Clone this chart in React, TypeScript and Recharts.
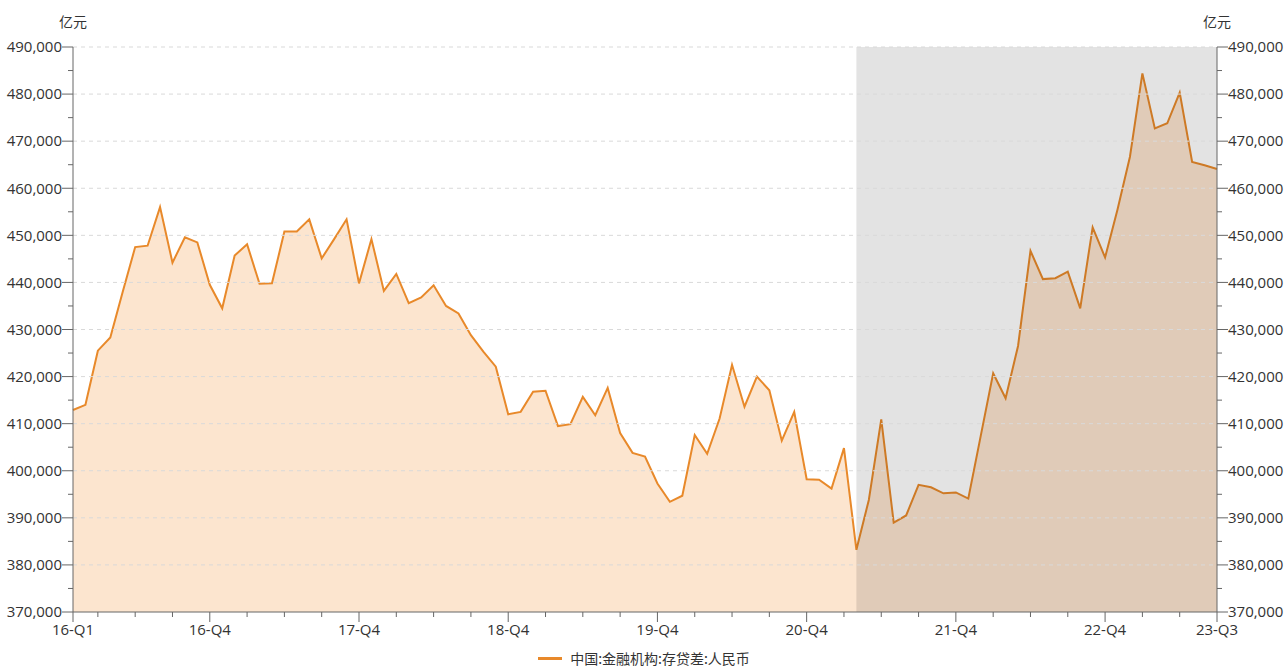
import React from 'react';
import { AreaChart, Area, XAxis, YAxis, ReferenceLine, ReferenceArea, Legend } from 'recharts';

// Monthly categories Jan 2016 – Sep 2023
const months: string[] = [];
for (let y = 2016; y <= 2023; y++) {
  for (let m = 1; m <= 12; m++) {
    if (y === 2023 && m > 9) break;
    months.push(`${y}-${String(m).padStart(2, '0')}`);
  }
}

// 中国:金融机构:存贷差:人民币 (亿元)
const depositLoanGap: number[] = [
  412900, 414000, 425500, 428300, 438000, 447500, 447800, 456000, 444200, 449600, 448500, 439500,
  434500, 445700, 448100, 439700, 439800, 450800, 450800, 453400, 445100, 449200, 453400, 439800,
  449200, 438200, 441800, 435600, 436800, 439400, 435000, 433400, 428800, 425300, 422100, 412000,
  412500, 416800, 417000, 409500, 409900, 415700, 411800, 417600, 408000, 403800, 403000, 397300,
  393400, 394700, 407600, 403600, 411100, 422500, 413600, 420000, 417100, 406400, 412500, 398200,
  398100, 396200, 404800, 383200, 393800, 410900, 389000, 390500, 397000, 396500, 395200, 395400,
  394100, 407400, 420700, 415400, 426500, 446700, 440700, 440900, 442300, 434500, 451700, 445300,
  455500, 466700, 484400, 472700, 473800, 480300, 465600, 464900, 464100,
];

const xTicks: string[] = [
  '2016-01', '2016-03', '2016-06', '2016-09', '2016-12',
  '2017-03', '2017-06', '2017-09', '2017-12',
  '2018-03', '2018-06', '2018-09', '2018-12',
  '2019-03', '2019-06', '2019-09', '2019-12',
  '2020-03', '2020-06', '2020-09', '2020-12',
  '2021-03', '2021-06', '2021-09', '2021-12',
  '2022-03', '2022-06', '2022-09', '2022-12',
  '2023-03', '2023-06', '2023-09',
];

const xTickLabels: Record<string, string> = {
  '2016-01': '16-Q1',
  '2016-12': '16-Q4',
  '2017-12': '17-Q4',
  '2018-12': '18-Q4',
  '2019-12': '19-Q4',
  '2020-12': '20-Q4',
  '2021-12': '21-Q4',
  '2022-12': '22-Q4',
  '2023-09': '23-Q3',
};

const yTicks: number[] = [
  370000, 375000, 380000, 385000, 390000, 395000, 400000, 405000, 410000, 415000,
  420000, 425000, 430000, 435000, 440000, 445000, 450000, 455000, 460000, 465000,
  470000, 475000, 480000, 485000, 490000,
];
const gridValues: number[] = [
  380000, 390000, 400000, 410000, 420000, 430000, 440000, 450000, 460000, 470000, 480000, 490000,
];

const shadeStart = '2021-04';
const shadeEnd = '2023-09';
const unitLabel = '亿元';
const seriesName = '中国:金融机构:存贷差:人民币';

const data = months.map((m, i) => ({ month: m, value: depositLoanGap[i] }));

const FONT = '"Open Sans", "Noto Sans CJK SC", sans-serif';
const CJK = '"Noto Sans CJK SC", "Open Sans", sans-serif';
const AXIS = '#666';
const TEXT = '#333';
const ORANGE = '#E8892A';

const fmt = (v: number) => String(v).replace(/\B(?=(\d{3})+(?!\d))/g, ',');

function LeftTick(props: any) {
  const { x, y, payload } = props;
  const v = payload.value as number;
  const major = v % 10000 === 0;
  return (
    <g>
      <line x1={x} x2={x - (major ? 11 : 5)} y1={y} y2={y} stroke={AXIS} />
      {major && (
        <text x={x - 11} y={y} dy="0.35em" textAnchor="end" fontSize={15} fill={TEXT} fontFamily={FONT}>
          {fmt(v)}
        </text>
      )}
    </g>
  );
}

function RightTick(props: any) {
  const { x, y, payload } = props;
  const v = payload.value as number;
  const major = v % 10000 === 0;
  return (
    <g>
      <line x1={x} x2={x + (major ? 11 : 5)} y1={y} y2={y} stroke={AXIS} />
      {major && (
        <text x={x + 11} y={y} dy="0.35em" textAnchor="start" fontSize={15} fill={TEXT} fontFamily={FONT}>
          {fmt(v)}
        </text>
      )}
    </g>
  );
}

function BottomTick(props: any) {
  const { x, y, payload } = props;
  const label = xTickLabels[payload.value as string];
  return (
    <g>
      <line x1={x} x2={x} y1={y} y2={y + (label ? 10 : 5)} stroke={AXIS} />
      {label && (
        <text x={x} y={y + 12} dy="0.71em" textAnchor="middle" fontSize={15} fill={TEXT} fontFamily={FONT}>
          {label}
        </text>
      )}
    </g>
  );
}

const unitLabelContent = (side: 'left' | 'right') => (p: any) => {
  const vb = p.viewBox || {};
  const cx = side === 'left' ? (vb.x ?? 8) + (vb.width ?? 65) : vb.x ?? 1217;
  return (
    <text x={cx} y={22} dy="0.35em" textAnchor="middle" fontSize={14} fill={TEXT} fontFamily={CJK}>
      {unitLabel}
    </text>
  );
};

function LegendContent() {
  return (
    <div
      style={{
        display: 'flex',
        justifyContent: 'center',
        alignItems: 'center',
        height: 26,
        fontFamily: CJK,
        fontSize: 14,
        color: TEXT,
      }}
    >
      <span style={{ display: 'inline-block', width: 24, height: 3, background: ORANGE, marginRight: 8 }} />
      {seriesName}
    </div>
  );
}

export default function App() {
  return (
    <div style={{ position: 'absolute', left: 0, top: 0, width: 1288, height: 671, overflow: 'hidden' }}>
      <AreaChart width={1288} height={671} data={data} margin={{ top: 47, right: 8, bottom: 0, left: 8 }}>
        <XAxis
          dataKey="month"
          type="category"
          scale="point"
          ticks={xTicks}
          interval={0}
          tickLine={false}
          tickSize={0}
          tickMargin={0}
          height={33}
          axisLine={{ stroke: AXIS }}
          tick={<BottomTick />}
        />
        <YAxis
          yAxisId="left"
          orientation="left"
          type="number"
          domain={[370000, 490000]}
          ticks={yTicks}
          interval={0}
          width={65}
          tickLine={false}
          tickSize={0}
          tickMargin={0}
          axisLine={{ stroke: AXIS }}
          tick={<LeftTick />}
          label={{ content: unitLabelContent('left') }}
        />
        <YAxis
          yAxisId="right"
          orientation="right"
          type="number"
          domain={[370000, 490000]}
          ticks={yTicks}
          interval={0}
          width={63}
          tickLine={false}
          tickSize={0}
          tickMargin={0}
          axisLine={{ stroke: AXIS }}
          tick={<RightTick />}
          label={{ content: unitLabelContent('right') }}
        />
        <Area
          yAxisId="right"
          type="linear"
          dataKey="value"
          stroke="none"
          fill="none"
          dot={false}
          activeDot={false}
          legendType="none"
          isAnimationActive={false}
        />
        <Area
          yAxisId="left"
          type="linear"
          dataKey="value"
          name={seriesName}
          stroke={ORANGE}
          strokeWidth={2}
          fill="#FCE5CF"
          fillOpacity={1}
          dot={false}
          activeDot={false}
          isAnimationActive={false}
        />
        {gridValues.map((v) => (
          <ReferenceLine key={v} yAxisId="left" y={v} stroke="#d9d9d9" strokeDasharray="4 4" />
        ))}
        <ReferenceArea
          yAxisId="left"
          x1={shadeStart}
          x2={shadeEnd}
          y1={370000}
          y2={490000}
          fill="#000"
          fillOpacity={0.11}
          stroke="none"
        />
        <Legend verticalAlign="bottom" height={26} content={<LegendContent />} />
      </AreaChart>
    </div>
  );
}
